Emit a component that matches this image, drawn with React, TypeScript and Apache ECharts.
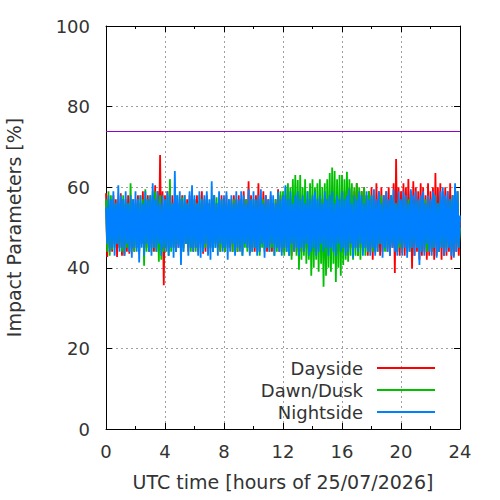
import React, { useEffect, useRef } from "react";
import * as echarts from "echarts";

// 5-minute samples, 0..24 h (289 per series)
const STEP_HOURS = 1 / 12;
const X_TICK_INTERVAL = 4;
const Y_TICK_INTERVAL = 20;
const THRESHOLD = 74;
const SERIES_NAMES = ["Dayside", "Dawn/Dusk", "Nightside"];

const dayside = [
  58.5, 42.7, 57, 45, 56, 44, 58, 46, 57, 42.7, 56, 45,
  58.5, 43, 57, 43, 56, 44, 58, 43.5, 57, 45, 56, 44,
  57, 45, 58, 44, 56, 46, 59, 44, 57, 45, 58, 44,
  57, 45, 58, 44, 60.5, 45, 59, 44.5, 68, 44.5, 59, 35.7,
  58, 45, 59, 44, 57, 46, 58, 45, 57, 44, 56, 45,
  57, 44, 58, 45, 56, 46, 57, 44, 58, 45, 56, 44,
  57, 45, 58, 44, 56, 46, 59, 43.5, 57, 44, 58, 45,
  56, 45, 57, 44, 58, 46, 56, 45, 57, 44, 58, 45,
  57, 44, 58, 46, 56, 45, 57, 44, 58, 45, 57, 44,
  58, 45, 57, 44, 59, 46, 57, 45, 61.5, 43.7, 58, 45,
  57, 44, 58, 45, 61, 44, 57, 46, 59, 45, 58, 44,
  57, 45, 58, 44, 56, 46, 57, 45, 59.5, 44, 58, 45,
  57, 44, 58, 45, 56, 46, 57, 43, 58, 45, 57, 44,
  58, 45, 57, 44, 56, 46, 58, 45, 57, 44, 58, 45,
  57, 44, 59.5, 45, 56, 46, 58, 44, 57, 45, 58, 44,
  57, 45, 58, 44, 56, 46, 57, 45, 58, 44, 57, 45,
  58, 44, 59, 45, 57, 43, 60, 45, 58, 44, 59, 45,
  61, 43, 58, 45, 59, 44, 60, 45, 58, 43, 59, 44,
  60, 42, 58, 44, 61, 45, 59, 43, 60, 44, 58, 45,
  59, 44, 60, 43, 58, 45, 61, 38.7, 67, 44, 60, 43,
  59, 45, 61, 43, 60, 44, 62, 45, 59, 39.8, 61.5, 43,
  60, 44, 59, 42, 61, 43, 60, 44, 58, 42, 61, 43,
  59, 44, 60, 42, 63.5, 43, 60, 44, 61, 42, 59, 43,
  60, 43, 59, 44, 61, 42, 58, 43, 60, 44, 59, 43,
  52,
];

const dawnDusk = [
  57, 44, 59, 43, 58, 44.5, 57, 45, 56, 46, 57, 45,
  56, 44, 58, 43.5, 57, 45, 56, 44, 61, 45, 57, 44,
  56, 45, 57, 44, 58, 46, 57, 40.5, 59.5, 44, 57, 45,
  58, 44, 59, 45, 59, 44, 57, 41.5, 58, 42, 56, 44,
  57, 45, 58, 43, 62, 44, 56, 45, 57, 44, 58, 46,
  56, 45, 57.5, 44, 58, 46, 56, 45, 57, 44, 56, 45,
  57, 44, 56, 46, 58, 45, 57, 44, 56, 45, 57, 46,
  56, 45, 57, 44, 58, 45, 57.5, 46, 56, 44, 57, 45,
  57, 44, 56, 45, 57, 46, 56, 44, 57, 45, 56, 44,
  56, 45, 57, 43, 56, 45, 57, 44, 56, 46, 57, 44,
  57, 45, 56, 44, 57, 43, 56, 45, 57, 44, 56, 45,
  56, 44, 57, 45, 56, 43, 57, 44, 58, 45, 59, 44,
  59, 43, 60, 44, 61, 43, 60, 42, 62, 44, 63, 43,
  61.8, 39.5, 63, 42, 60, 43, 62, 41, 59, 42, 61, 38,
  62, 40, 60, 42, 61, 39, 62, 41, 60, 35.3, 61, 38,
  62, 40, 63.5, 39, 64.9, 41, 64, 36.5, 62, 40, 63, 38,
  63, 40.7, 62, 42, 63.8, 41.5, 62, 43, 61, 42, 60, 43,
  61, 43, 60, 42, 59, 44, 60, 43, 58, 44, 59, 45,
  58, 44, 57, 45, 56, 44, 57, 46, 58, 45, 56, 44,
  57, 45, 56, 44, 58, 46, 57, 45, 56, 44, 57, 45,
  56, 44, 57, 46, 56, 45, 57, 44, 58, 45, 56, 46,
  57, 45, 56, 44, 57, 46, 56, 45, 57, 44, 56, 45,
  56, 44, 57, 45, 58, 46, 56, 44, 57, 45, 56, 44,
  57, 45, 56, 46, 57, 44, 58, 45, 56, 46, 59, 45,
  50,
];

const nightside = [
  55, 46, 58, 44, 57, 45, 59, 43, 56, 46, 60.5, 44,
  58, 45, 57, 43, 59, 46, 56, 44, 58, 42.5, 57, 45,
  59, 44, 57, 41.3, 58, 45, 56, 43, 59, 46, 57, 44,
  58, 43, 61, 45, 57, 44, 59, 46, 56, 43, 58, 45,
  57, 44, 59, 43, 58, 45, 56, 42.5, 64, 44, 58, 45,
  59, 40.7, 57, 44, 58, 46, 56, 43, 59, 45, 60.5, 44,
  58, 45, 56, 43, 59, 42.5, 57, 44, 58, 46, 59, 43,
  57, 42, 61.5, 44, 58, 45, 56, 43, 59, 46, 57, 44,
  58, 45, 59, 42, 57, 44, 58, 46, 56, 43, 59, 45,
  57, 44, 59, 43, 58, 46, 56, 45, 59.5, 43, 57, 44,
  59, 45, 57, 43, 58, 44, 59.5, 46, 56, 42.5, 58, 45,
  57, 44, 59, 46, 58, 43, 56, 45, 59, 44, 57, 43,
  58, 45, 60.5, 44, 57, 43, 59, 46, 56, 44, 58, 45,
  59, 43, 57, 45, 58, 44, 56, 46, 59, 43, 57, 44,
  58, 45, 59, 43, 57, 44, 58, 46, 56, 44, 59, 45,
  57, 43, 58, 45, 59, 44, 56, 43, 58, 46, 57, 44,
  59, 45, 57, 43, 58, 44, 59.5, 46, 56, 42.5, 58, 45,
  57, 44, 59, 46, 58, 43, 56, 45, 59, 44, 57, 43,
  58, 45, 59.5, 43, 57, 44, 59, 46, 56, 42.5, 58, 45,
  59, 44, 57, 43, 58, 45, 59.5, 44, 56, 43, 59, 46,
  57, 43, 59, 45, 58, 42.5, 56, 44, 59.5, 45, 58, 43,
  59, 45, 57, 40.7, 58, 44, 59, 43, 56, 46, 58, 44,
  57, 43, 59, 45, 58, 42.5, 56, 44, 59, 45, 60, 43,
  58, 44, 59, 45, 57, 43, 58, 42.5, 61, 44, 59, 45,
  53,
];

const COLORS = ["#ff0000", "#00c000", "#0080ff"];
const FONT = "DejaVu Sans";
const TEXT_COLOR = "#333";

const toPairs = (vals: number[]) => vals.map((v, i) => [i * STEP_HOURS, v]);

export default function App() {
  const ref = useRef<HTMLDivElement>(null);
  useEffect(() => {
    if (!ref.current) return;
    const chart = echarts.init(ref.current, undefined, { renderer: "svg" });
    const axisLineStyle = { color: "#000", width: 1 };
    const splitLine = {
      show: true,
      lineStyle: { color: "#a0a0a0", type: [2, 3] as any, width: 1 },
    };
    const xCommon = {
      type: "value" as const,
      min: 0,
      max: 24,
      interval: X_TICK_INTERVAL,
      axisLine: { show: true, onZero: false, lineStyle: axisLineStyle },
      axisTick: { show: true, inside: true, length: 6, lineStyle: axisLineStyle },
      minorTick: { show: true, splitNumber: 2, length: 3, lineStyle: axisLineStyle },
    };
    const yCommon = {
      type: "value" as const,
      min: 0,
      max: 100,
      interval: Y_TICK_INTERVAL,
      axisLine: { show: true, onZero: false, lineStyle: axisLineStyle },
      axisTick: { show: true, inside: true, length: 6, lineStyle: axisLineStyle },
    };
    const seriesData = [dayside, dawnDusk, nightside];
    chart.setOption({
      animation: false,
      textStyle: { fontFamily: FONT },
      grid: {
        left: 106,
        top: 26,
        width: 354,
        height: 403,
        containLabel: false,
        outerBoundsMode: "none",
      },
      xAxis: [
        {
          ...xCommon,
          position: "bottom",
          name: "UTC time [hours of 25/07/2026]",
          nameLocation: "middle",
          nameGap: 43,
          nameTextStyle: { fontSize: 19, color: TEXT_COLOR, fontFamily: FONT },
          axisLabel: { show: true, margin: 13, fontSize: 18, color: TEXT_COLOR, fontFamily: FONT },
          splitLine,
        },
        {
          ...xCommon,
          position: "top",
          axisLabel: { show: false },
          splitLine: { show: false },
        },
      ],
      yAxis: [
        {
          ...yCommon,
          position: "left",
          name: "Impact Parameters [%]",
          nameLocation: "middle",
          nameGap: 83,
          nameTextStyle: { fontSize: 19, color: TEXT_COLOR, fontFamily: FONT },
          axisLabel: { show: true, margin: 16, fontSize: 18, color: TEXT_COLOR, fontFamily: FONT },
          splitLine,
        },
        {
          ...yCommon,
          position: "right",
          axisLabel: { show: false },
          splitLine: { show: false },
        },
      ],
      legend: {
        show: true,
        data: SERIES_NAMES,
        orient: "vertical",
        align: "right",
        right: 65,
        top: 359,
        padding: 0,
        itemGap: 4,
        itemWidth: 58,
        itemHeight: 2,
        icon: "rect",
        textStyle: {
          fontSize: 18,
          lineHeight: 18,
          color: TEXT_COLOR,
          fontFamily: FONT,
          padding: [0, 9, 0, 0],
        },
      },
      series: SERIES_NAMES.map((name, k) => ({
        name,
        type: "line",
        xAxisIndex: 0,
        yAxisIndex: 0,
        data: toPairs(seriesData[k]),
        showSymbol: false,
        symbol: "none",
        color: COLORS[k],
        lineStyle: { color: COLORS[k], width: 1.8 },
        itemStyle: { color: COLORS[k] },
        z: 2 + k,
        markLine:
          k === 2
            ? {
                silent: true,
                symbol: "none",
                label: { show: false },
                lineStyle: { color: "#9400d3", type: "solid", width: 1 },
                data: [{ yAxis: THRESHOLD }],
              }
            : undefined,
      })),
    });
    return () => chart.dispose();
  }, []);
  return (
    <div
      ref={ref}
      style={{ position: "fixed", left: 0, top: 0, width: 500, height: 500, background: "#fff" }}
    />
  );
}
